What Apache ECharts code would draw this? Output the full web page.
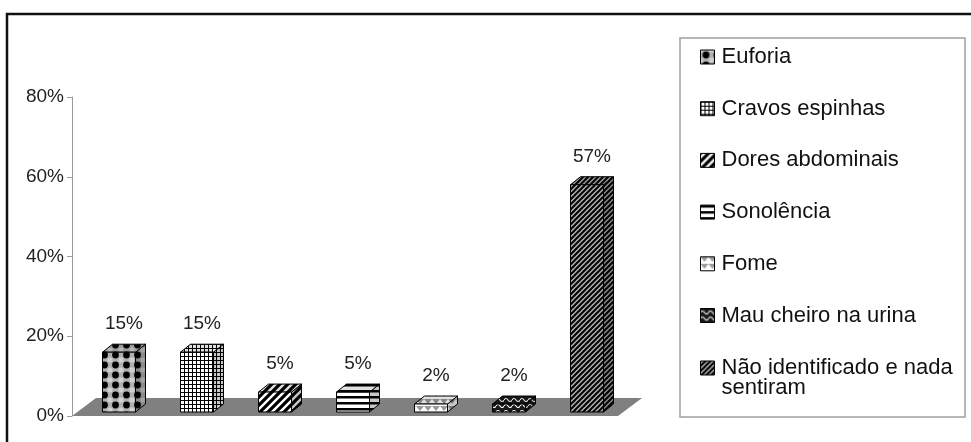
<!DOCTYPE html>
<html>
<head>
<meta charset="utf-8">
<script src="https://cdn.jsdelivr.net/npm/echarts@6/dist/echarts.min.js"></script>
<style>
html,body{margin:0;padding:0;background:#fff;}
#chart{width:971px;height:442px;}
</style>
</head>
<body>
<div id="chart"></div>
<script>
// ---- data ----
const categories = ['Euforia', 'Cravos espinhas', 'Dores abdominais', 'Sonolência', 'Fome', 'Mau cheiro na urina', 'Não identificado e nada sentiram'];
const legendLabels = ['Euforia', 'Cravos espinhas', 'Dores abdominais', 'Sonolência', 'Fome', 'Mau cheiro na urina', 'Não identificado e nada\nsentiram'];
const values = [15, 15, 5, 5, 2, 2, 57];
const yTicks = [0, 20, 40, 60, 80];

// ---- patterns (styling) ----
function tile(w, h, draw) {
  const c = document.createElement('canvas');
  c.width = w; c.height = h;
  const ctx = c.getContext('2d');
  draw(ctx, w, h);
  return { image: c, repeat: 'repeat' };
}
const patterns = [
  tile(11, 10, (ctx, w, h) => { ctx.fillStyle = '#b0b0b0'; ctx.fillRect(0, 0, w, h);
    ctx.fillStyle = '#d0d0d0'; ctx.beginPath(); ctx.arc(0, 0, 2.5, 0, Math.PI * 2); ctx.arc(11, 0, 2.5, 0, Math.PI * 2); ctx.fill();
    ctx.beginPath(); ctx.arc(0, 10, 2.5, 0, Math.PI * 2); ctx.arc(11, 10, 2.5, 0, Math.PI * 2); ctx.fill();
    ctx.fillStyle = '#000'; ctx.beginPath(); ctx.arc(5.5, 5, 3.4, 0, Math.PI * 2); ctx.fill(); }),
  tile(4, 4, (ctx, w, h) => { ctx.fillStyle = '#fff'; ctx.fillRect(0, 0, w, h);
    ctx.fillStyle = '#000'; ctx.fillRect(0, 0, w, 1); ctx.fillRect(0, 0, 1, h); }),
  tile(8, 8, (ctx, w, h) => { ctx.fillStyle = '#fff'; ctx.fillRect(0, 0, w, h);
    ctx.strokeStyle = '#000'; ctx.lineWidth = 3.2; ctx.beginPath();
    ctx.moveTo(0, 8); ctx.lineTo(8, 0); ctx.moveTo(-4, 4); ctx.lineTo(4, -4); ctx.moveTo(4, 12); ctx.lineTo(12, 4); ctx.stroke(); }),
  tile(2, 6, (ctx, w, h) => { ctx.fillStyle = '#fff'; ctx.fillRect(0, 0, w, h);
    ctx.fillStyle = '#000'; ctx.fillRect(0, 0, w, 2.5); }),
  tile(8, 7, (ctx, w, h) => { ctx.fillStyle = '#fff'; ctx.fillRect(0, 0, w, h);
    ctx.fillStyle = '#999'; ctx.beginPath(); ctx.moveTo(0, 0); ctx.lineTo(8, 0); ctx.lineTo(4, 5); ctx.closePath(); ctx.fill(); }),
  tile(8, 6, (ctx, w, h) => { ctx.fillStyle = '#1a1a1a'; ctx.fillRect(0, 0, w, h);
    ctx.strokeStyle = '#fff'; ctx.lineWidth = 1.2; ctx.beginPath();
    ctx.moveTo(0, 4); ctx.quadraticCurveTo(2, 1, 4, 4); ctx.quadraticCurveTo(6, 7, 8, 4); ctx.stroke(); }),
  tile(5, 5, (ctx, w, h) => { ctx.fillStyle = '#b0b0b0'; ctx.fillRect(0, 0, w, h);
    ctx.strokeStyle = '#000'; ctx.lineWidth = 2; ctx.beginPath();
    ctx.moveTo(0, 5); ctx.lineTo(5, 0); ctx.moveTo(-2.5, 2.5); ctx.lineTo(2.5, -2.5); ctx.moveTo(2.5, 7.5); ctx.lineTo(7.5, 2.5); ctx.stroke(); })
];

const FONT = '"Liberation Sans", Arial, sans-serif';
const DX = 10, DY = -8;        // bar depth
const FRONT_DX = 8, FRONT_DY = -4; // bar front face offset from floor front
const BAR_W = 33;

function barRender(idx) {
  return function (params, api) {
    const v = api.value(1);
    const base = api.coord([api.value(0), 0]);
    const top = api.coord([api.value(0), v]);
    const cx = base[0] + FRONT_DX;
    const x0 = cx - BAR_W / 2, x1 = cx + BAR_W / 2;
    const yb = base[1] + FRONT_DY, yt = top[1] + FRONT_DY;
    const fill = patterns[idx];
    const stroke = { stroke: '#000', lineWidth: 1 };
    return {
      type: 'group',
      children: [
        { type: 'polygon', shape: { points: [[x1, yb], [x1 + DX, yb + DY], [x1 + DX, yt + DY], [x1, yt]] },
          style: Object.assign({ fill: fill }, stroke) },
        { type: 'polygon', shape: { points: [[x1, yb], [x1 + DX, yb + DY], [x1 + DX, yt + DY], [x1, yt]] },
          style: { fill: 'rgba(0,0,0,0.22)' } },
        { type: 'polygon', shape: { points: [[x0, yt], [x1, yt], [x1 + DX, yt + DY], [x0 + DX, yt + DY]] },
          style: Object.assign({ fill: fill }, stroke) },
        { type: 'polygon', shape: { points: [[x0, yt], [x1, yt], [x1 + DX, yt + DY], [x0 + DX, yt + DY]] },
          style: { fill: 'rgba(0,0,0,0.12)' } },
        { type: 'rect', shape: { x: x0, y: yt, width: BAR_W, height: yb - yt },
          style: Object.assign({ fill: fill }, stroke) },
        { type: 'text', style: { text: v + '%', x: cx + DX / 2, y: yt + DY - 20, align: 'center', verticalAlign: 'middle',
          font: '19px ' + FONT, fill: '#222' } }
      ]
    };
  };
}

const series = [{
  type: 'custom', name: 'floor', silent: true, z: 1,
  data: [[0, 0]],
  renderItem: function (params, api) {
    const cs = params.coordSys;
    const y0 = api.coord([0, 0])[1];
    return { type: 'polygon', shape: { points: [[cs.x, y0], [cs.x + cs.width, y0], [cs.x + cs.width + 24, y0 - 18], [cs.x + 24, y0 - 18]] },
      style: { fill: '#808080' } };
  }
}];
categories.forEach((c, i) => {
  series.push({
    type: 'custom', name: legendLabels[i], z: 2,
    itemStyle: { color: patterns[i] },
    data: [[i, values[i]]],
    encode: { x: 0, y: 1 },
    renderItem: barRender(i)
  });
});

const legendCommon = {
  orient: 'vertical', left: 700,
  itemWidth: 14, itemHeight: 14, itemGap: 29.7, icon: 'rect',
  padding: 0, selectedMode: false,
  itemStyle: { borderColor: '#000', borderWidth: 1 },
  textStyle: { fontSize: 22, fontFamily: FONT, color: '#111', lineHeight: 22, padding: [0, 0, 0, 2] }
};

const chart = echarts.init(document.getElementById('chart'), null, { renderer: 'canvas' });
chart.setOption({
  animation: false,
  backgroundColor: '#fff',
  graphic: [
    { type: 'rect', shape: { x: 7, y: 14, width: 966, height: 440 }, style: { fill: 'none', stroke: '#111', lineWidth: 2.5 }, z: -1 },
    { type: 'rect', shape: { x: 680, y: 38, width: 285, height: 379 }, style: { fill: 'none', stroke: '#a0a0a0', lineWidth: 1.5 }, z: -1 }
  ],
  grid: { left: 72, top: 97, width: 546, bottom: 26 },
  xAxis: { type: 'category', data: categories, axisLine: { show: false }, axisTick: { show: false }, axisLabel: { show: false }, splitLine: { show: false } },
  yAxis: {
    type: 'value', min: yTicks[0], max: yTicks[yTicks.length - 1], interval: 20,
    axisLine: { show: true, lineStyle: { color: '#9a9a9a', width: 1 } },
    axisTick: { show: true, length: 5, lineStyle: { color: '#9a9a9a' } },
    axisLabel: { fontSize: 19, fontFamily: FONT, color: '#222', margin: 8, formatter: '{value}%' },
    splitLine: { show: false }
  },
  legend: [
    Object.assign({}, legendCommon, { top: 46, data: legendLabels.slice(0, 6) }),
    Object.assign({}, legendCommon, { top: 337, data: legendLabels.slice(6),
      textStyle: Object.assign({}, legendCommon.textStyle, { lineHeight: 20 }),
      formatter: function (n) { return '\n' + n; } })
  ],
  series: series
});
</script>
</body>
</html>
